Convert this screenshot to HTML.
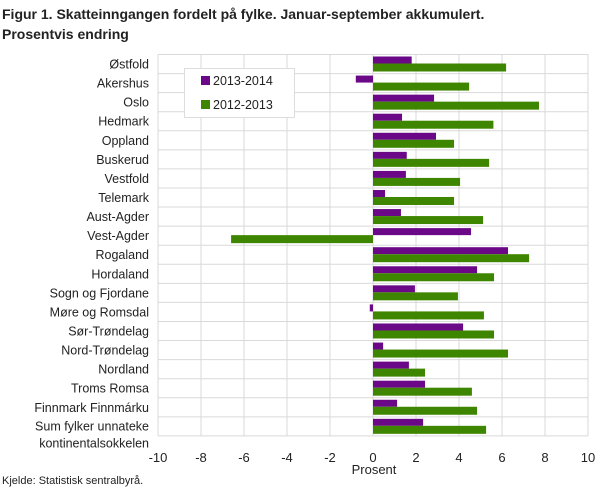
<!DOCTYPE html>
<html><head><meta charset="utf-8"><style>
body{margin:0;background:#fff;font-family:"Liberation Sans",sans-serif;}
svg text{font-family:"Liberation Sans",sans-serif;fill:#222;}
</style></head><body>
<svg id="chart" width="608" height="489" xmlns="http://www.w3.org/2000/svg">
<text x="2" y="19" font-size="14" font-weight="bold">Figur 1. Skatteinngangen fordelt på fylke. Januar-september akkumulert.</text>
<text x="2" y="39" font-size="14" font-weight="bold">Prosentvis endring</text>
<g id="grid"></g>
<g id="bars"></g>
<g id="labels"></g>
<g id="ticks"></g>
<text x="374" y="474" font-size="13" text-anchor="middle">Prosent</text>
<text x="2" y="484" font-size="11">Kjelde: Statistisk sentralbyrå.</text>
<g>
<rect x="184.5" y="68.5" width="110" height="49" fill="#fff" stroke="#ddd"/>
<rect x="201" y="76" width="9" height="9" fill="#6a0888"/>
<text x="213" y="85" font-size="12.5">2013-2014</text>
<rect x="201" y="100" width="9" height="9" fill="#3f8600"/>
<text x="213" y="109" font-size="12.5">2012-2013</text>
</g>
</svg>
<script>
const categories=["Østfold","Akershus","Oslo","Hedmark","Oppland","Buskerud","Vestfold","Telemark","Aust-Agder","Vest-Agder","Rogaland","Hordaland","Sogn og Fjordane","Møre og Romsdal","Sør-Trøndelag","Nord-Trøndelag","Nordland","Troms Romsa","Finnmark Finnmárku","Sum fylker unnateke|kontinentalsokkelen"];
const series1314=[1.8,-0.8,2.84,1.35,2.93,1.57,1.53,0.56,1.3,4.56,6.28,4.84,1.95,-0.15,4.19,0.47,1.67,2.42,1.12,2.33];
const series1213=[6.19,4.47,7.72,5.6,3.77,5.4,4.05,3.77,5.12,-6.6,7.26,5.63,3.95,5.16,5.63,6.28,2.42,4.6,4.84,5.26];
const tickValues=[-10,-8,-6,-4,-2,0,2,4,6,8,10];
const NS="http://www.w3.org/2000/svg";
const x0=158,x1=588,yTop=54.5,rowH=19.07,xmin=-10,xmax=10;
const xs=v=>x0+(v-xmin)/(xmax-xmin)*(x1-x0);
function mk(tag,attrs,parent){const e=document.createElementNS(NS,tag);for(const k in attrs)e.setAttribute(k,attrs[k]);parent.appendChild(e);return e;}
const grid=document.getElementById('grid'),bars=document.getElementById('bars'),labels=document.getElementById('labels'),ticks=document.getElementById('ticks');
tickValues.forEach(t=>{
  const l=mk('line',{x1:xs(t),x2:xs(t),y1:yTop,y2:yTop+categories.length*rowH,stroke:'#d9d9d9','stroke-width':1},grid);
  
  
  const tx=mk('text',{x:xs(t),y:462,'font-size':13,'text-anchor':'middle'},ticks);
  tx.textContent=t;
  
  
});
for(let i=0;i<=categories.length;i++){
  const l=mk('line',{x1:x0,x2:x1,y1:yTop+i*rowH,y2:yTop+i*rowH,stroke:'#d9d9d9','stroke-width':1},grid);
  
  
}
categories.forEach((c,i)=>{
  const y=yTop+i*rowH;
  const a=series1314[i],b=series1213[i];
  const r1=mk('rect',{x:Math.min(xs(0),xs(a)),y:y+2,width:Math.abs(xs(a)-xs(0)),height:7,fill:'#6a0888'},bars);
  
  
  const r2=mk('rect',{x:Math.min(xs(0),xs(b)),y:y+9,width:Math.abs(xs(b)-xs(0)),height:8,fill:'#3f8600'},bars);
  
  
  const parts=c.split('|');
  parts.forEach((p,j)=>{
    const t=mk('text',{x:149,y:y+14+(j-(parts.length-1)/2)*17+(parts.length>1?8:0),'font-size':12.5,'text-anchor':'end'},labels);
    t.textContent=p;
    
    
  });
});
</script>
</body></html>
